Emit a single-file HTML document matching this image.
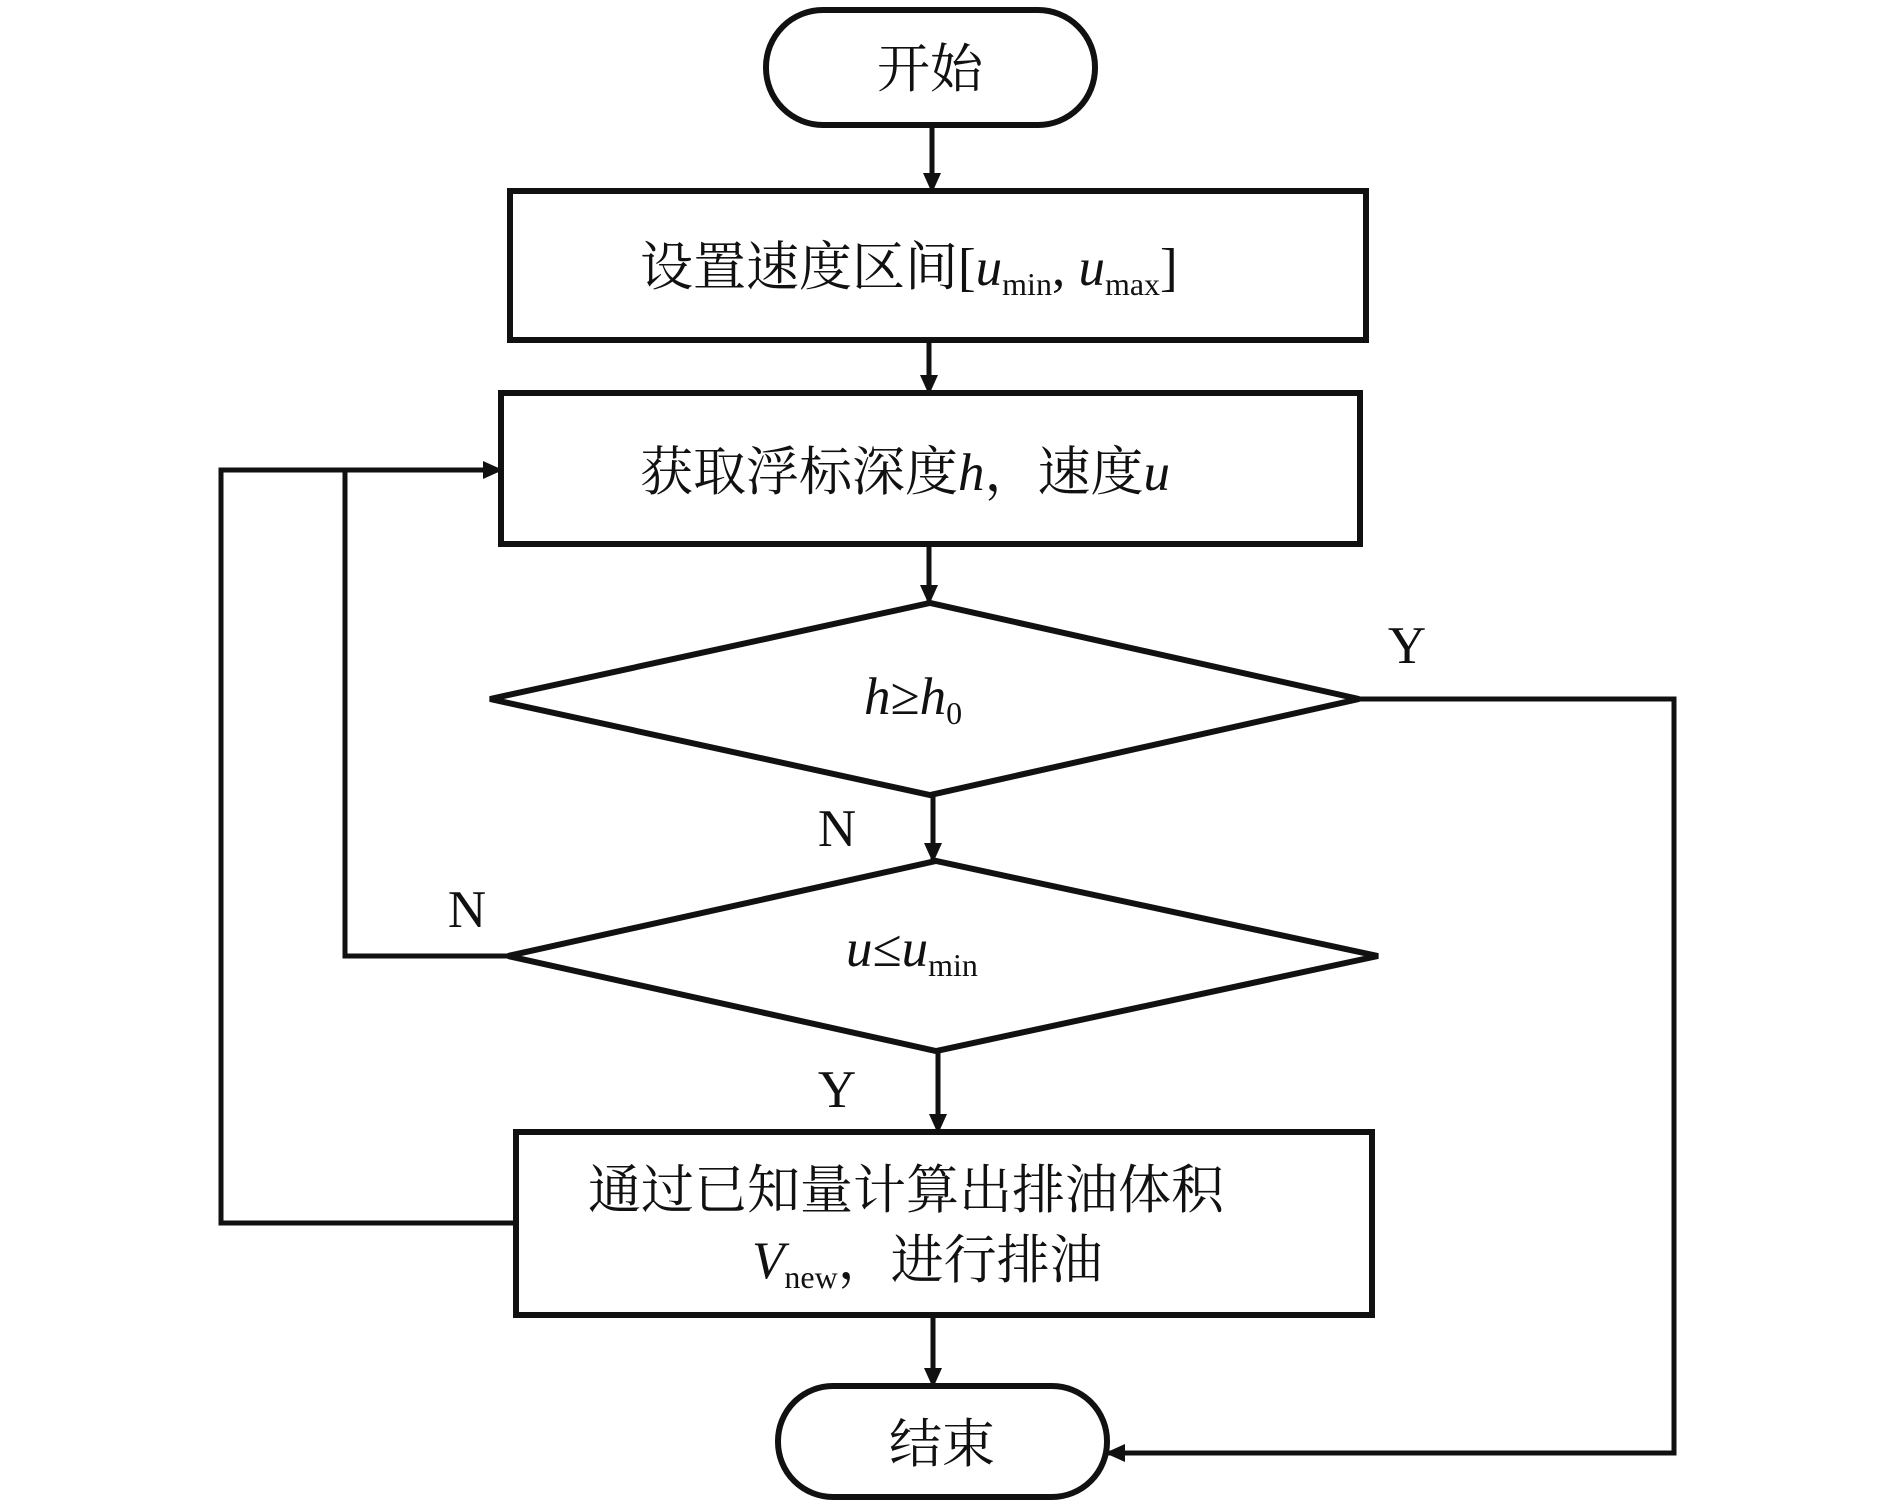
<!DOCTYPE html>
<html><head><meta charset="utf-8"><style>
html,body{margin:0;padding:0;background:#fff;}
svg text{font-family:"Liberation Serif","Noto Serif CJK SC",serif;fill:#111;}
</style></head><body>
<svg width="1890" height="1500" viewBox="0 0 1890 1500" xmlns="http://www.w3.org/2000/svg">
<defs><marker id="a" markerWidth="10" markerHeight="10" refX="9" refY="5" orient="auto" markerUnits="userSpaceOnUse"><path d="M0,0 L10,5 L0,10 z" fill="#111"/></marker>
<marker id="b" markerWidth="20" markerHeight="18" refX="18" refY="9" orient="auto" markerUnits="userSpaceOnUse"><path d="M0,0 L20,9 L0,18 z" fill="#111"/></marker></defs>
<g stroke="#111" stroke-width="6" fill="none">
<rect x="766" y="10" width="329" height="115" rx="57" ry="57"/>
<rect x="510" y="191" width="856" height="149"/>
<rect x="501" y="393" width="859" height="151"/>
<polygon points="490,699 930,603 1359,699 930,795"/>
<polygon points="508,956 936,861 1378,956 936,1051"/>
<rect x="516" y="1132" width="856" height="183"/>
<rect x="778" y="1386" width="329" height="111" rx="55" ry="55"/>
</g>
<g stroke="#111" stroke-width="5" fill="none" marker-end="url(#b)">
<line x1="932" y1="125" x2="932" y2="191"/>
<line x1="929" y1="340" x2="929" y2="393"/>
<line x1="929" y1="544" x2="929" y2="603"/>
<line x1="933" y1="795" x2="933" y2="861"/>
<line x1="938" y1="1051" x2="938" y2="1132"/>
<line x1="933" y1="1315" x2="933" y2="1386"/>
<polyline points="1359,699 1674,699 1674,1453 1107,1453"/>
<polyline points="508,956 345,956 345,470 501,470"/>
<polyline points="516,1223 221,1223 221,470 345,470" marker-end="none"/>
</g>
<g font-size="53">
<text x="930" y="87" text-anchor="middle">开始</text>
<text x="640" y="285">设置速度区间[<tspan font-style="italic">u</tspan><tspan font-size="32" dy="10">min</tspan><tspan dy="-10">, </tspan><tspan font-style="italic">u</tspan><tspan font-size="32" dy="10">max</tspan><tspan dy="-10">]</tspan></text>
<text x="640" y="490">获取浮标深度<tspan font-style="italic">h</tspan>，速度<tspan font-style="italic">u</tspan></text>
<text x="864" y="714"><tspan font-style="italic">h</tspan>≥<tspan font-style="italic">h</tspan><tspan font-size="32" dy="10">0</tspan></text>
<text x="846" y="966"><tspan font-style="italic">u</tspan>≤<tspan font-style="italic">u</tspan><tspan font-size="32" dy="10">min</tspan></text>
<text x="588" y="1208">通过已知量计算出排油体积</text>
<text x="752" y="1278"><tspan font-style="italic">V</tspan><tspan font-size="32" dy="10">new</tspan><tspan dy="-10">，进行排油</tspan></text>
<text x="942" y="1462" text-anchor="middle">结束</text>
<text x="1407" y="663" text-anchor="middle">Y</text>
<text x="837" y="846" text-anchor="middle">N</text>
<text x="467" y="927" text-anchor="middle">N</text>
<text x="837" y="1107" text-anchor="middle">Y</text>
</g>
</svg>
</body></html>
